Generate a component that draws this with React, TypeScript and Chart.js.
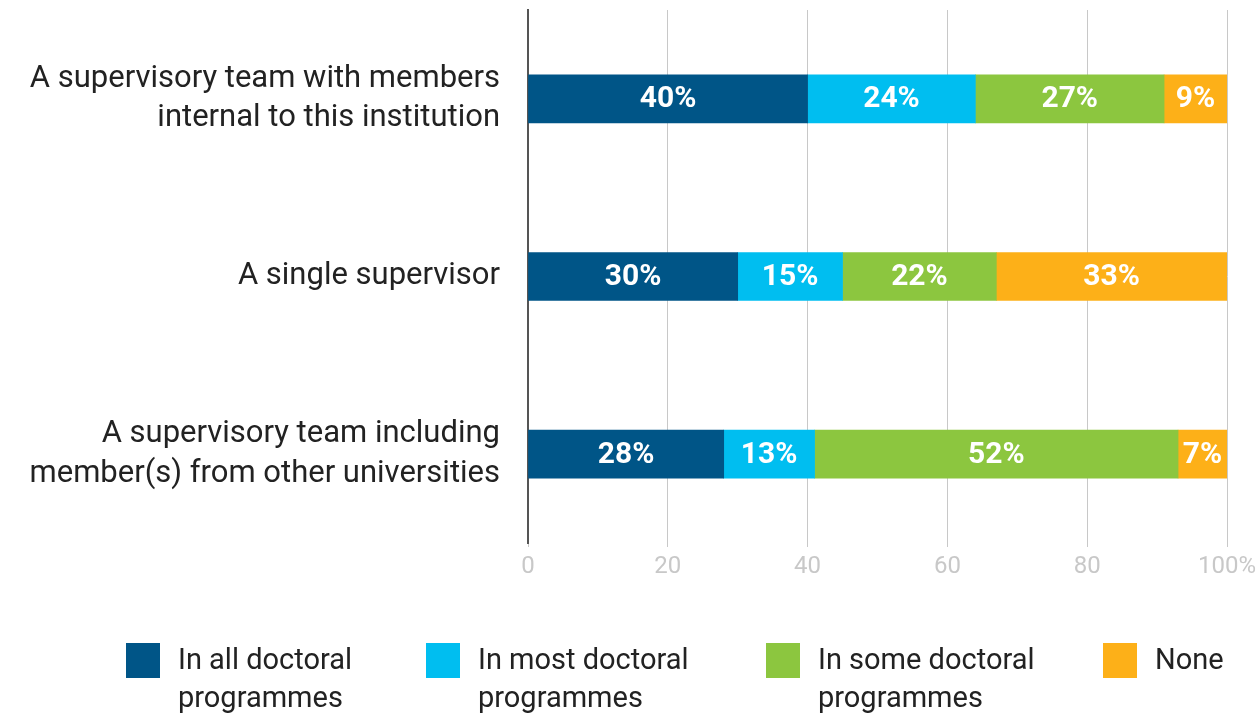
import React, { useEffect, useRef } from "react";
import { Chart, registerables } from "chart.js";

Chart.register(...registerables);

const categories: string[][] = [
  ["A supervisory team with members", "internal to this institution"],
  ["A single supervisor"],
  ["A supervisory team including", "member(s) from other universities"],
];
const seriesNames: string[][] = [
  ["In all doctoral", "programmes"],
  ["In most doctoral", "programmes"],
  ["In some doctoral", "programmes"],
  ["None"],
];
const allValues = [40, 30, 28];
const mostValues = [24, 15, 13];
const someValues = [27, 22, 52];
const noneValues = [9, 33, 7];
const colors = ["#005587", "#00BEF0", "#8CC63F", "#FDB018"];
const tickValues = [0, 20, 40, 60, 80, 100];

const FONT = "Roboto, 'Open Sans', sans-serif";

const valueLabels = {
  id: "valueLabels",
  afterDatasetsDraw(chart: any) {
    const ctx = chart.ctx;
    ctx.save();
    ctx.fillStyle = "#ffffff";
    ctx.font = `bold 30px ${FONT}`;
    ctx.textAlign = "center";
    ctx.textBaseline = "middle";
    chart.data.datasets.forEach((ds: any, di: number) => {
      const meta = chart.getDatasetMeta(di);
      meta.data.forEach((bar: any, i: number) => {
        const cx = (bar.x + bar.base) / 2;
        ctx.fillText(`${ds.data[i]}%`, cx, bar.y + 1);
      });
    });
    ctx.restore();
  },
};

const customLegend = {
  id: "customLegend",
  afterDraw(chart: any) {
    const ctx = chart.ctx;
    const xs = [126, 426, 766, 1103];
    ctx.save();
    ctx.font = `29px ${FONT}`;
    ctx.textBaseline = "middle";
    ctx.textAlign = "left";
    seriesNames.forEach((lines, i) => {
      ctx.fillStyle = colors[i];
      ctx.fillRect(xs[i], 643, 34, 35);
      ctx.fillStyle = "#222222";
      lines.forEach((ln, j) => {
        ctx.fillText(ln, xs[i] + 52, 662 + j * 38);
      });
    });
    ctx.restore();
  },
};

export default function App() {
  const ref = useRef<HTMLCanvasElement>(null);
  useEffect(() => {
    if (!ref.current) return;
    const names = seriesNames.map((s) => s.join(" "));
    const chart = new Chart(ref.current, {
      type: "bar",
      data: {
        labels: categories,
        datasets: [allValues, mostValues, someValues, noneValues].map((d, i) => ({
          label: names[i],
          data: d,
          backgroundColor: colors[i],
          borderWidth: 0,
          barThickness: 48,
        })),
      },
      options: {
        indexAxis: "y",
        animation: false,
        responsive: false,
        maintainAspectRatio: false,
        layout: { padding: { top: 10, right: 33, bottom: 114, left: 0 } },
        plugins: {
          legend: { display: false },
          tooltip: { enabled: false },
        },
        scales: {
          x: {
            stacked: true,
            min: 0,
            max: 100,
            afterBuildTicks(scale: any) {
              scale.ticks = tickValues.map((v) => ({ value: v }));
            },
            afterFit(scale: any) {
              scale.height = 60;
              scale.paddingLeft = 0;
              scale.paddingRight = 0;
            },
            ticks: {
              color: "#c8c8c8",
              font: { family: FONT, size: 24 },
              padding: 6,
              callback: (v: any) => (v === 100 ? "100%" : String(v)),
            },
            grid: {
              color: "#c8c8c8",
              lineWidth: 1,
              tickLength: 4,
              drawTicks: true,
            },
            border: { display: false },
          },
          y: {
            stacked: true,
            afterFit(scale: any) {
              scale.width = 528;
              scale.paddingTop = 0;
              scale.paddingBottom = 0;
            },
            ticks: {
              color: "#222222",
              font: { family: FONT, size: 31, lineHeight: 1.28 },
              padding: 20,
            },
            grid: { display: false },
            border: { display: true, color: "#555555", width: 2 },
          },
        },
      },
      plugins: [valueLabels, customLegend],
    });
    return () => chart.destroy();
  }, []);
  return (
    <div style={{ position: "fixed", left: 0, top: 0, width: 1260, height: 717, background: "#fff" }}>
      <canvas ref={ref} width={1260} height={717} style={{ width: 1260, height: 717 }} />
    </div>
  );
}
